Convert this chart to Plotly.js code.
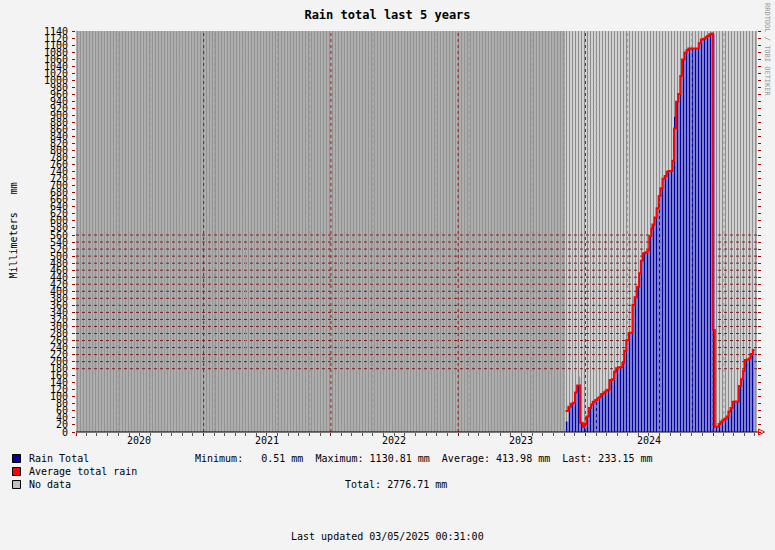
<!DOCTYPE html>
<html><head><meta charset="utf-8">
<script src="https://cdn.plot.ly/plotly-3.0.1.min.js"></script>
<style>html,body{margin:0;padding:0;background:#f3f3f3}</style>
</head><body>
<div id="chart" style="width:775px;height:550px"></div>
<script>
// ---- data ----
const rainDates = ['2023-11-05','2023-11-13','2023-11-20','2023-11-26','2023-12-02','2023-12-08','2023-12-14','2023-12-17','2023-12-24','2023-12-29',
 '2024-01-04','2024-01-11','2024-01-17','2024-01-22','2024-01-29','2024-02-04','2024-02-10','2024-02-15','2024-02-22','2024-02-28',
 '2024-03-04','2024-03-10','2024-03-17','2024-03-23','2024-03-29','2024-04-03','2024-04-10','2024-04-16','2024-04-21','2024-04-27',
 '2024-05-04','2024-05-09','2024-05-15','2024-05-21','2024-05-28','2024-06-03','2024-06-08','2024-06-14','2024-06-21','2024-06-27',
 '2024-07-02','2024-07-08','2024-07-11','2024-07-17','2024-07-23','2024-07-29','2024-08-03','2024-08-09','2024-08-15','2024-08-21',
 '2024-08-26','2024-09-01','2024-09-06','2024-09-11','2024-09-17','2024-09-23','2024-09-29','2024-10-04','2024-10-11','2024-10-17',
 '2024-10-22','2024-10-28','2024-11-03','2024-11-09','2024-11-15','2024-11-21','2024-11-27','2024-12-03','2024-12-10','2024-12-15',
 '2024-12-21','2024-12-27','2025-01-01','2025-01-06','2025-01-17','2025-01-22','2025-01-28','2025-02-03','2025-02-09','2025-02-14',
 '2025-02-20','2025-02-26','2025-03-04','2025-03-10','2025-03-16','2025-03-22','2025-03-28','2025-04-02','2025-04-08','2025-04-14',
 '2025-04-19','2025-04-25','2025-04-30'];
const rainTotal = [30,72,80,83,112,132,157,26,14,23,
 44,68,78,86,91,96,100,108,113,118,
 120,148,150,171,181,184,184,197,231,261,
 282,280,361,383,413,451,487,508,511,517,
 557,578,590,610,636,671,693,720,728,740,
 742,742,771,896,939,961,1012,1059,1079,1086,
 1090,1090,1090,1090,1090,1105,1116,1118,1122,1126,
 1131,1131,1131,15,23,29,34,38,44,58,
 68,86,87,87,131,150,174,205,206,209,
 222,233,233];
const avgTotal = [60,72,80,83,112,132,132,26,14,23,
 44,68,78,86,91,96,100,108,113,118,
 120,148,150,171,181,184,184,197,231,261,
 282,282,361,383,413,451,487,508,511,517,
 557,578,590,610,636,671,693,720,728,740,
 742,742,771,863,939,961,1012,1059,1079,1086,
 1090,1090,1090,1090,1090,1105,1116,1118,1122,1126,
 1131,1133,290,15,23,29,34,38,44,58,
 68,86,87,87,131,150,174,205,206,209,
 222,233,233];
const noDataDates = ['2020-01-01','2023-11-05','2025-04-30','2025-05-07'];
const noDataLevel = [1140, 0, 1140, 1140];
const dataSpanDates = ['2023-11-05','2025-04-30'];
const yearLabels = ['2020','2021','2022','2023','2024'];
const yearLabelDates = ['2020-07-01','2021-07-01','2022-07-01','2023-07-01','2024-07-01'];
const yearGridDates = ['2021-01-01','2022-01-01','2023-01-01','2024-01-01','2025-01-01'];
const quarterGridDates = ['2020-05-01','2020-08-01','2020-11-01','2021-02-01','2021-05-01','2021-08-01','2021-11-01',
 '2022-02-01','2022-05-01','2022-08-01','2022-11-01','2023-02-01','2023-05-01','2023-08-01','2023-11-01',
 '2024-02-01','2024-05-01','2024-08-01','2024-11-01','2025-02-01'];
const hGridLevels = [180,200,220,240,260,280,300,320,340,360,380,400,420,440,460,480,500,520,540,560];
const xRange = ['2020-01-01','2025-05-07'];
const yMax = 1140;
const statMin = '0.51', statMax = '1130.81', statAvg = '413.98', statLast = '233.15', statTotal = '2776.71';
const lastUpdated = '03/05/2025 00:31:00';

// ---- helpers ----
const NB = s => s.replace(/ /g, '\u00a0');
function hLines(levels){ const x=[],y=[]; levels.forEach(v=>{x.push(xRange[0],xRange[1],null);y.push(v,v,null);}); return {x,y}; }
function vLines(dates){ const x=[],y=[]; dates.forEach(d=>{x.push(d,d,null);y.push(0,yMax,null);}); return {x,y}; }
const hg = hLines(hGridLevels), qg = vLines(quarterGridDates), yg = vLines(yearGridDates);
const FONT = 'DejaVu Sans Mono';

const traces = [
 {x:noDataDates, y:noDataLevel, type:'scatter', mode:'none', line:{shape:'hv'}, fill:'tozeroy', fillcolor:'#b4b4b4',
  fillpattern:{shape:'|', fgcolor:'#929292', bgcolor:'#b8b8b8', size:3, solidity:0.5}, hoverinfo:'skip'},
 {x:dataSpanDates, y:[yMax,yMax], type:'scatter', mode:'none', line:{shape:'hv'}, fill:'tozeroy', fillcolor:'#ffffff',
  fillpattern:{shape:'|', fgcolor:'#8c8c8c', bgcolor:'#ffffff', size:3, solidity:0.6}, hoverinfo:'skip'},
 {x:hg.x, y:hg.y, type:'scatter', mode:'lines', line:{color:'#7a1c1c', width:1, dash:'dot'}, hoverinfo:'skip'},
 {x:rainDates, y:rainTotal, type:'scatter', mode:'none', line:{shape:'hv'}, fill:'tozeroy', fillcolor:'#0000a0',
  fillpattern:{shape:'|', fgcolor:'#0000a0', bgcolor:'#ffffff', size:3, solidity:0.67}, name:'Rain Total'},
 {x:qg.x, y:qg.y, type:'scatter', mode:'lines', line:{color:'#9a9a9a', width:1, dash:'dot'}, hoverinfo:'skip'},
 {x:yg.x, y:yg.y, type:'scatter', mode:'lines', line:{color:'#b01010', width:1, dash:'dot'}, hoverinfo:'skip'},
 {x:rainDates, y:avgTotal, type:'scatter', mode:'lines', line:{shape:'hv', color:'#ff0000', width:2}, name:'Average total rain'}
];

const px = X => (X-76)/681, py = Y => (432-Y)/401;
const ann = [];
yearLabels.forEach((t,i)=>ann.push({x:yearLabelDates[i], xref:'x', y:py(440.5), yref:'paper', text:t, showarrow:false,
  xanchor:'center', yanchor:'middle', font:{family:FONT, size:10, color:'#000'}}));
const legendRows = [458.5, 471.5, 484.5];
const legendTexts = ['Rain Total','Average total rain','No data'];
const legendColors = ['#0000a0','#ff0000','#c0c0c0'];
const shapes = [];
legendTexts.forEach((t,i)=>{
  ann.push({x:px(26.5), xref:'paper', y:py(legendRows[i]), yref:'paper', text:NB(t), showarrow:false, xanchor:'left', yanchor:'middle',
    font:{family:FONT, size:10, color:'#000'}});
  shapes.push({type:'rect', xref:'paper', yref:'paper', x0:px(12.5), x1:px(20.5), y0:py(legendRows[i]+4), y1:py(legendRows[i]-4),
    fillcolor:legendColors[i], line:{color:'#000', width:1}});
});
ann.push({x:px(193), xref:'paper', y:py(legendRows[0]), yref:'paper', showarrow:false, xanchor:'left', yanchor:'middle',
  text:NB('Minimum:   '+statMin+' mm  Maximum: '+statMax+' mm  Average: '+statAvg+' mm  Last: '+statLast+' mm'),
  font:{family:FONT, size:10, color:'#000'}});
ann.push({x:px(343), xref:'paper', y:py(legendRows[2]), yref:'paper', showarrow:false, xanchor:'left', yanchor:'middle',
  text:NB('Total: '+statTotal+' mm'), font:{family:FONT, size:10, color:'#000'}});
ann.push({x:px(387.5), xref:'paper', y:py(536), yref:'paper', showarrow:false, xanchor:'center', yanchor:'middle',
  text:NB('Last updated '+lastUpdated), font:{family:FONT, size:10, color:'#000'}});
ann.push({x:px(13), xref:'paper', y:py(230.5), yref:'paper', showarrow:false, xanchor:'center', yanchor:'middle', textangle:-90,
  text:NB('Millimeters   mm'), font:{family:FONT, size:10, color:'#000'}});
ann.push({x:px(767), xref:'paper', y:py(50), yref:'paper', showarrow:false, xanchor:'center', yanchor:'middle', textangle:90,
  text:'RRDTOOL / TOBI OETIKER', font:{family:FONT, size:7, color:'#999999'}});
// x axis line and arrow
shapes.push({type:'line', xref:'paper', yref:'paper', x0:0, x1:px(758), y0:0, y1:0, line:{color:'#000', width:1}});
shapes.push({type:'path', xref:'paper', yref:'paper', path:`M ${px(758.5)} ${py(429)} L ${px(764.5)} ${py(432)} L ${px(758.5)} ${py(435)} Z`,
  line:{color:'#ff0000', width:1}, fillcolor:'rgba(0,0,0,0)'});

const layout = {
  width:775, height:550, paper_bgcolor:'#f3f3f3', plot_bgcolor:'#ffffff', showlegend:false,
  margin:{l:76, r:18, t:31, b:118},
  title:{text:'<b>Rain total last 5 years</b>', x:0.5, xanchor:'center', y:1-15/550, yanchor:'middle', yref:'container',
    font:{family:FONT, size:12, color:'#000'}},
  xaxis:{type:'date', range:xRange, showgrid:false, zeroline:false, showline:false, ticks:'outside', ticklen:3, tickcolor:'#c00000',
    tick0:'2020-01-01', dtick:'M12', showticklabels:false,
    minor:{dtick:'M1', tick0:'2020-01-01', ticks:'outside', ticklen:3, tickcolor:'#555555', showgrid:false}},
  xaxis2:{type:'date', range:xRange, overlaying:'x', side:'top', anchor:'y', showgrid:false, zeroline:false, showline:false,
    ticks:'outside', ticklen:3, tickcolor:'#c00000', tick0:'2020-01-01', dtick:'M12', showticklabels:false},
  yaxis:{range:[0,yMax], dtick:20, tick0:0, showgrid:false, zeroline:false, showline:false, ticks:'outside', ticklen:3,
    tickcolor:'#a00000', mirror:'ticks', tickfont:{family:FONT, size:10, color:'#000'}, ticklabelstandoff:2},
  annotations:ann, shapes:shapes
};
Plotly.newPlot('chart', traces, layout, {displayModeBar:false, staticPlot:true});
</script>
</body></html>
